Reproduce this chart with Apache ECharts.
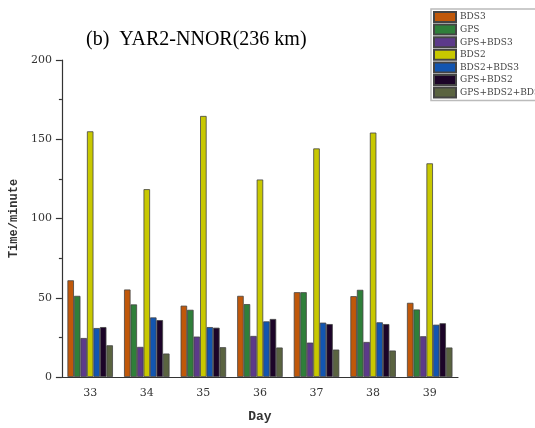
<!DOCTYPE html>
<html>
<head>
<meta charset="utf-8">
<script src="https://cdn.jsdelivr.net/npm/echarts@6/dist/echarts.min.js"></script>
<style>html,body{margin:0;padding:0;background:#fff;}#c{width:535px;height:428px;}</style>
</head>
<body>
<div id="c"></div>
<script>
var days = ['33','34','35','36','37','38','39'];
var seriesNames = ['BDS3','GPS','GPS+BDS3','BDS2','BDS2+BDS3','GPS+BDS2','GPS+BDS2+BDS3'];
var colors = ['#c0580a','#2f7f3a','#5c3a8a','#c8c800','#1255b0','#1c0428','#5a6340'];
var bds3     = [61, 55.2, 45, 51.2, 53.5, 51, 46.8];
var gps      = [51.2, 45.8, 42.4, 46, 53.5, 55, 42.6];
var gpsBds3  = [24.6, 19, 25.5, 25.9, 21.7, 22.1, 25.7];
var bds2     = [155, 118.5, 164.7, 124.6, 144.2, 154.2, 134.8];
var bds2Bds3 = [30.9, 37.6, 31.5, 35.1, 34.3, 34.5, 33];
var gpsBds2  = [31.5, 35.9, 31.1, 36.6, 33.4, 33.4, 33.9];
var gpsBds2Bds3 = [20, 14.8, 18.8, 18.6, 17.3, 16.7, 18.6];
var yTicks = [0, 50, 100, 150, 200];

var allData = [bds3, gps, gpsBds3, bds2, bds2Bds3, gpsBds2, gpsBds2Bds3];
var series = seriesNames.map(function(n, i){
  return {
    name: n, type: 'bar', xAxisIndex: 0, data: allData[i],
    barWidth: 6.5, barGap: '0%',
    itemStyle: {color: colors[i], borderColor: '#444', borderWidth: 0.8}
  };
});

var chart = echarts.init(document.getElementById('c'), null, {renderer: 'canvas'});
chart.setOption({
  animation: false,
  backgroundColor: '#fff',
  title: {
    text: '(b)  YAR2-NNOR(236 km)',
    left: 86, top: 30, padding: 0,
    textStyle: {fontFamily: 'Liberation Serif', fontSize: 20, fontWeight: 'normal', color: '#000'}
  },
  legend: {
    orient: 'vertical', left: 431, top: 9,
    padding: [2, 20, 2, 2],
    itemWidth: 22, itemHeight: 10, itemGap: 0.6,
    icon: 'rect',
    borderColor: '#bbb', borderWidth: 1.5, backgroundColor: '#fff',
    textStyle: {fontFamily: 'DejaVu Serif', fontSize: 9, lineHeight: 10, color: '#444', padding: [0,0,0,-1]},
    data: seriesNames
  },
  grid: {left: 60, right: 77, top: 60, bottom: 49},
  xAxis: [{
    type: 'category', data: days, position: 'bottom',
    name: 'Day', nameLocation: 'middle', nameGap: 33,
    nameTextStyle: {fontFamily: 'Liberation Mono', fontSize: 13, color: '#333', fontWeight: 'bold'},
    axisLine: {lineStyle: {color: '#333', width: 1.2}},
    axisTick: {alignWithLabel: true, length: 5, lineStyle: {color: '#333', width: 1.2}},
    axisLabel: {fontFamily: 'DejaVu Serif', fontSize: 11, color: '#333', margin: 11}
  }, {
    type: 'category', data: days, position: 'bottom',
    axisLine: {show: false},
    axisTick: {length: 3, lineStyle: {color: '#333', width: 1.2}},
    axisLabel: {show: false}
  }],
  yAxis: {
    type: 'value', min: 0, max: 200, interval: 50,
    name: 'Time/minute', nameLocation: 'middle', nameGap: 40,
    nameTextStyle: {fontFamily: 'Liberation Mono', fontSize: 12, color: '#333', fontWeight: 'bold'},
    axisLine: {show: true, lineStyle: {color: '#333', width: 1.2}},
    axisTick: {show: true, inside: false, length: 6, lineStyle: {color: '#333', width: 1.2}},
    minorTick: {show: true, splitNumber: 2, length: 3, lineStyle: {color: '#333', width: 1.2}},
    splitLine: {show: false},
    axisLabel: {fontFamily: 'DejaVu Serif', fontSize: 11, color: '#333', margin: 10,
      formatter: function(v){ return yTicks.indexOf(v) >= 0 ? String(v) : ''; }}
  },
  series: series
});
</script>
</body>
</html>
